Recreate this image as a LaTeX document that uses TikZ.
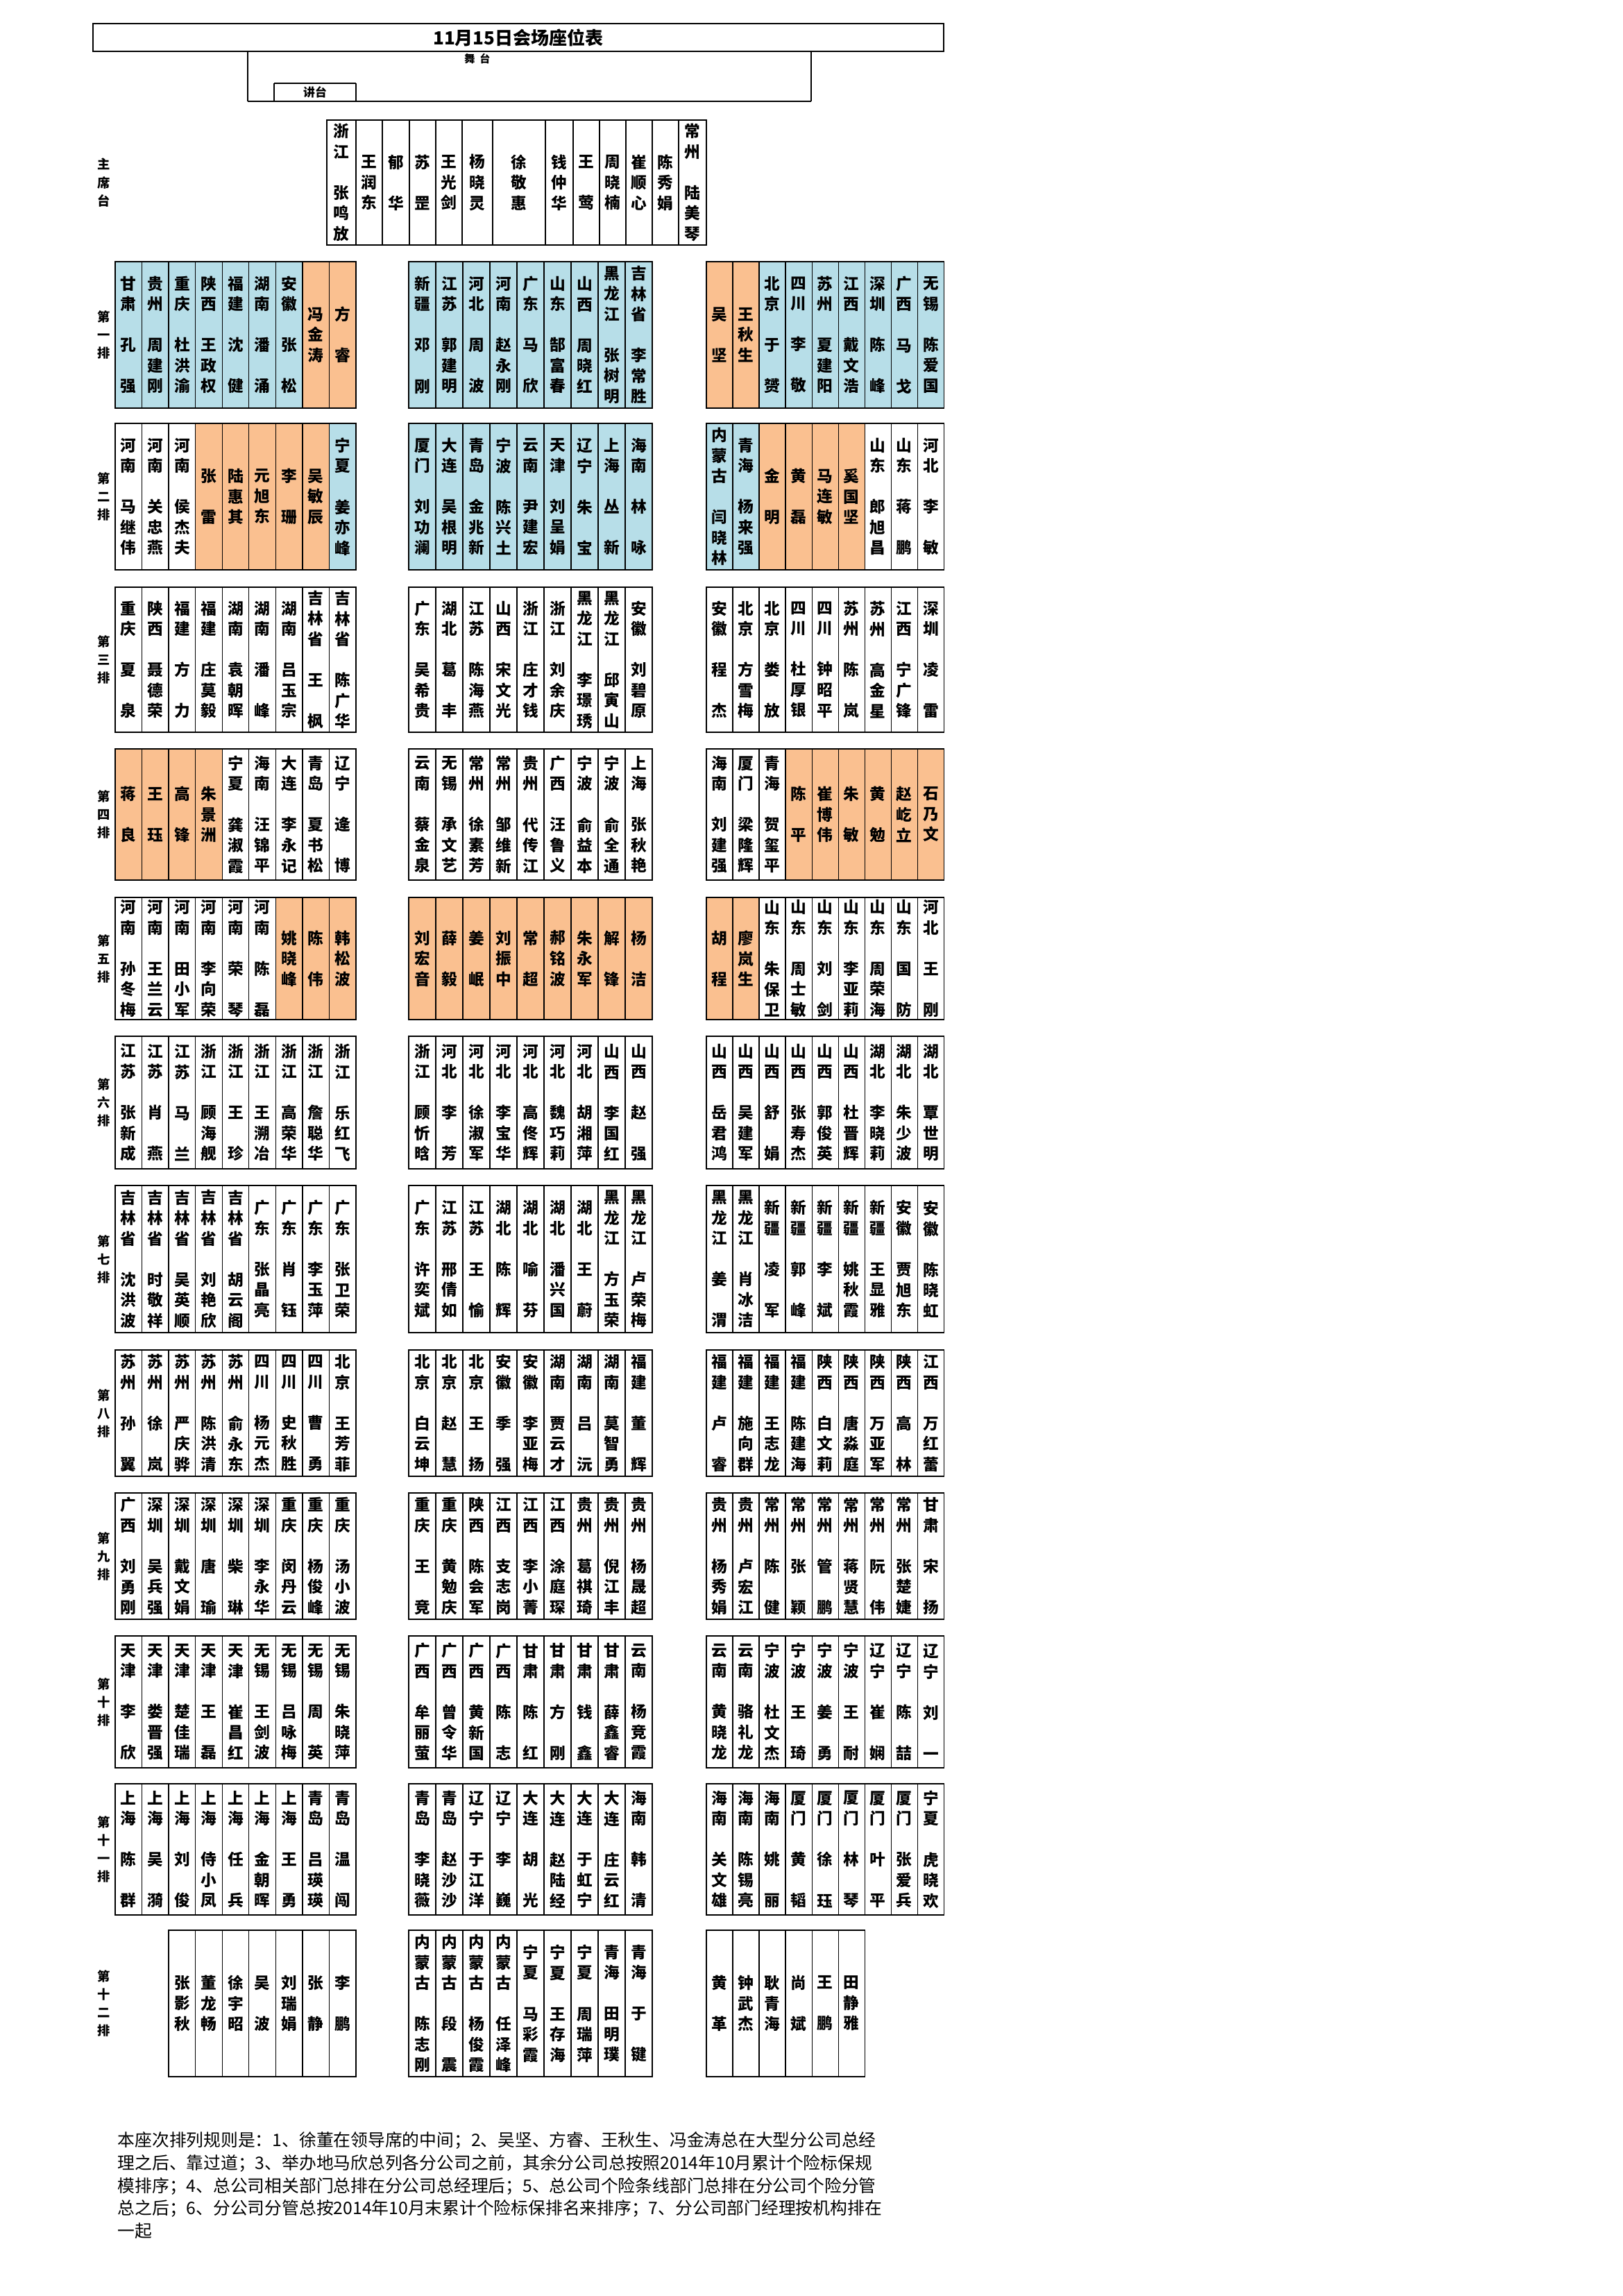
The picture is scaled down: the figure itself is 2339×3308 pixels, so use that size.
\documentclass[tikz,border=0pt]{standalone}
\usepackage{fontspec}
\usepackage{tikz}
\usetikzlibrary{calc}
\usepackage{xcolor}
\newfontfamily\cjk{Noto Sans CJK SC}
\definecolor{seatb}{HTML}{B7DEE8}
\definecolor{seato}{HTML}{FAC090}
\colorlet{seatw}{white}

% one character per line
\newcommand\vstack[1]{\expandafter\vstackA#1\relax}
\def\vstackA#1#2\relax{#1\ifx\relax#2\relax\else\\\vstackA#2\relax\fi}

\tikzset{
  gridline/.style={line width=0.13mm},
  edgeline/.style={line width=0.27mm},
  seat/.style={font=\cjk\bfseries\fontsize{6.45}{8.4}\selectfont, align=center, inner sep=0pt},
  rowlab/.style={font=\cjk\bfseries\fontsize{5.2}{7.4}\selectfont, align=center, inner sep=0pt},
  note/.style={font=\cjk\fontsize{7.05}{9.3}\selectfont, align=left, inner sep=0pt}
}

% #1 name, #2 x left, #3 column width, #4 y top, #5 y bottom, #6 colour/text list
\newcommand\seatblock[6]{%
  \foreach \cc/\tx [count=\i] in {#6} {
    \pgfmathsetmacro\xa{#2+(\i-1)*#3}
    \pgfmathsetmacro\xb{#2+\i*#3}
    \fill[seat\cc] (\xa,#4) rectangle (\xb,#5);
    \draw[gridline] (\xa,#4) rectangle (\xb,#5);
    \draw[edgeline] (\xa,#4) -- (\xb,#4) (\xa,#5) -- (\xb,#5);
    \node[seat] (#1-\i) at ({(\xa+\xb)/2},{(#4+#5)/2}) {\vstack{\tx}};
  }%
}

\begin{document}
\begin{tikzpicture}[x=0.1mm, y=-0.1mm]
\useasboundingbox (0,0) rectangle (2339,3308);

% --- titolo e palco ---
\draw[edgeline] (134,34) rectangle (1360,74);
\node[font=\cjk\bfseries\fontsize{7.4}{9}\selectfont] (title) at (747,54) {11月15日会场座位表};
\draw[gridline] (357,74) -- (357,146) (1169,74) -- (1169,146);
\draw[edgeline] (357,146) -- (1169,146);
\node[font=\cjk\bfseries\fontsize{4.3}{5}\selectfont] (stage) at (688,85) {舞\ \ 台};
\draw[edgeline] (395,120) -- (513,120);
\draw[gridline] (395,120) -- (395,146) (513,120) -- (513,146);
\node[font=\cjk\bfseries\fontsize{4.8}{6}\selectfont] (lectern) at (454,133) {讲台};

% --- 主席台 ---
\node[rowlab] (chairlab) at (150,263) {\vstack{主席台}};
\foreach \xa/\xb/\tx [count=\i] in {471/513/浙江　张鸣放,513/551/王润东,551/590/郁　华,590/628/苏　罡,628/666/王光剑,666/710/杨晓灵,710/786/徐敬惠,786/826/钱仲华,826/864/王　莺,864/902/周晓楠,902/940/崔顺心,940/978/陈秀娟,978/1018/常州　陆美琴}
{
  \draw[gridline] (\xa,173) rectangle (\xb,353);
  \node[seat] (chair-\i) at ({(\xa+\xb)/2},263) {\vstack{\tx}};
}
\draw[edgeline] (471,173) rectangle (1018,353);

% --- etichette delle file ---
\foreach \lab/\ya/\yb [count=\i] in {第一排/377/588,第二排/610/821,第三排/846/1055,第四排/1079/1268,第五排/1293/1469,第六排/1493/1684,第七排/1708/1920,第八排/1945/2127,第九排/2151/2333,第十排/2357/2547,第十一排/2570/2759,第十二排/2781/2992}
  \node[rowlab] (lab-\i) at (150,{(\ya+\yb)/2}) {\vstack{\lab}};

% --- 第一排 ---
\seatblock{r1l}{166}{38.56}{377}{588}{b/甘肃　孔　强,b/贵州　周建刚,b/重庆　杜洪渝,b/陕西　王政权,b/福建　沈　健,b/湖南　潘　涌,b/安徽　张　松,o/冯金涛,o/方　睿}
\seatblock{r1m}{589}{39.0}{377}{588}{b/新疆　邓　刚,b/江苏　郭建明,b/河北　周　波,b/河南　赵永刚,b/广东　马　欣,b/山东　郜富春,b/山西　周晓红,b/黑龙江　张树明,b/吉林省　李常胜}
\seatblock{r1r}{1018}{38.04}{377}{588}{o/吴　坚,o/王秋生,b/北京　于　赟,b/四川　李　敬,b/苏州　夏建阳,b/江西　戴文浩,b/深圳　陈　峰,b/广西　马　戈,b/无锡　陈爱国}

% --- 第二排 ---
\seatblock{r2l}{166}{38.56}{610}{821}{w/河南　马继伟,w/河南　关忠燕,w/河南　侯杰夫,o/张　雷,o/陆惠其,o/元旭东,o/李　珊,o/吴敏辰,b/宁夏　姜亦峰}
\seatblock{r2m}{589}{39.0}{610}{821}{b/厦门　刘功澜,b/大连　吴根明,b/青岛　金兆新,b/宁波　陈兴土,b/云南　尹建宏,b/天津　刘呈娟,b/辽宁　朱　宝,b/上海　丛　新,b/海南　林　咏}
\seatblock{r2r}{1018}{38.04}{610}{821}{b/内蒙古　闫晓林,b/青海　杨来强,o/金　明,o/黄　磊,o/马连敏,o/奚国坚,w/山东　郎旭昌,w/山东　蒋　鹏,w/河北　李　敏}

% --- 第三排 ---
\seatblock{r3l}{166}{38.56}{846}{1055}{w/重庆　夏　泉,w/陕西　聂德荣,w/福建　方　力,w/福建　庄莫毅,w/湖南　袁朝晖,w/湖南　潘　峰,w/湖南　吕玉宗,w/吉林省　王　枫,w/吉林省　陈广华}
\seatblock{r3m}{589}{39.0}{846}{1055}{w/广东　吴希贵,w/湖北　葛　丰,w/江苏　陈海燕,w/山西　宋文光,w/浙江　庄才钱,w/浙江　刘余庆,w/黑龙江　李璟琇,w/黑龙江　邱寅山,w/安徽　刘碧原}
\seatblock{r3r}{1018}{38.04}{846}{1055}{w/安徽　程　杰,w/北京　方雪梅,w/北京　娄　放,w/四川　杜厚银,w/四川　钟昭平,w/苏州　陈　岚,w/苏州　高金星,w/江西　宁广锋,w/深圳　凌　雷}

% --- 第四排 ---
\seatblock{r4l}{166}{38.56}{1079}{1268}{o/蒋　良,o/王　珏,o/高　锋,o/朱景洲,w/宁夏　龚淑霞,w/海南　汪锦平,w/大连　李永记,w/青岛　夏书松,w/辽宁　逄　博}
\seatblock{r4m}{589}{39.0}{1079}{1268}{w/云南　蔡金泉,w/无锡　承文艺,w/常州　徐素芳,w/常州　邹维新,w/贵州　代传江,w/广西　汪鲁义,w/宁波　俞益本,w/宁波　俞全通,w/上海　张秋艳}
\seatblock{r4r}{1018}{38.04}{1079}{1268}{w/海南　刘建强,w/厦门　梁隆辉,w/青海　贺玺平,o/陈　平,o/崔博伟,o/朱　敏,o/黄　勉,o/赵屹立,o/石乃文}

% --- 第五排 ---
\seatblock{r5l}{166}{38.56}{1293}{1469}{w/河南　孙冬梅,w/河南　王兰云,w/河南　田小军,w/河南　李向荣,w/河南　荣　琴,w/河南　陈　磊,o/姚晓峰,o/陈　伟,o/韩松波}
\seatblock{r5m}{589}{39.0}{1293}{1469}{o/刘宏音,o/薛　毅,o/姜　岷,o/刘振中,o/常　超,o/郝铭波,o/朱永军,o/解　锋,o/杨　洁}
\seatblock{r5r}{1018}{38.04}{1293}{1469}{o/胡　程,o/廖岚生,w/山东　朱保卫,w/山东　周士敏,w/山东　刘　剑,w/山东　李亚莉,w/山东　周荣海,w/山东　国　防,w/河北　王　刚}

% --- 第六排 ---
\seatblock{r6l}{166}{38.56}{1493}{1684}{w/江苏　张新成,w/江苏　肖　燕,w/江苏　马　兰,w/浙江　顾海舰,w/浙江　王　珍,w/浙江　王溯冶,w/浙江　高荣华,w/浙江　詹聪华,w/浙江　乐红飞}
\seatblock{r6m}{589}{39.0}{1493}{1684}{w/浙江　顾忻晗,w/河北　李　芳,w/河北　徐淑军,w/河北　李宝华,w/河北　高佟辉,w/河北　魏巧莉,w/河北　胡湘萍,w/山西　李国红,w/山西　赵　强}
\seatblock{r6r}{1018}{38.04}{1493}{1684}{w/山西　岳君鸿,w/山西　吴建军,w/山西　舒　娟,w/山西　张寿杰,w/山西　郭俊英,w/山西　杜晋辉,w/湖北　李晓莉,w/湖北　朱少波,w/湖北　覃世明}

% --- 第七排 ---
\seatblock{r7l}{166}{38.56}{1708}{1920}{w/吉林省　沈洪波,w/吉林省　时敬祥,w/吉林省　吴英顺,w/吉林省　刘艳欣,w/吉林省　胡云阁,w/广东　张晶亮,w/广东　肖　钰,w/广东　李玉萍,w/广东　张卫荣}
\seatblock{r7m}{589}{39.0}{1708}{1920}{w/广东　许奕斌,w/江苏　邢倩如,w/江苏　王　愉,w/湖北　陈　辉,w/湖北　喻　芬,w/湖北　潘兴国,w/湖北　王　蔚,w/黑龙江　方玉荣,w/黑龙江　卢荣梅}
\seatblock{r7r}{1018}{38.04}{1708}{1920}{w/黑龙江　姜　渭,w/黑龙江　肖冰洁,w/新疆　凌　军,w/新疆　郭　峰,w/新疆　李　斌,w/新疆　姚秋霞,w/新疆　王显雅,w/安徽　贾旭东,w/安徽　陈晓虹}

% --- 第八排 ---
\seatblock{r8l}{166}{38.56}{1945}{2127}{w/苏州　孙　翼,w/苏州　徐　岚,w/苏州　严庆骅,w/苏州　陈洪清,w/苏州　俞永东,w/四川　杨元杰,w/四川　史秋胜,w/四川　曹　勇,w/北京　王芳菲}
\seatblock{r8m}{589}{39.0}{1945}{2127}{w/北京　白云坤,w/北京　赵　慧,w/北京　王　扬,w/安徽　季　强,w/安徽　李亚梅,w/湖南　贾云才,w/湖南　吕　沅,w/湖南　莫智勇,w/福建　董　辉}
\seatblock{r8r}{1018}{38.04}{1945}{2127}{w/福建　卢　睿,w/福建　施向群,w/福建　王志龙,w/福建　陈建海,w/陕西　白文莉,w/陕西　唐淼庭,w/陕西　万亚军,w/陕西　高　林,w/江西　万红蕾}

% --- 第九排 ---
\seatblock{r9l}{166}{38.56}{2151}{2333}{w/广西　刘勇刚,w/深圳　吴兵强,w/深圳　戴文娟,w/深圳　唐　瑜,w/深圳　柴　琳,w/深圳　李永华,w/重庆　闵丹云,w/重庆　杨俊峰,w/重庆　汤小波}
\seatblock{r9m}{589}{39.0}{2151}{2333}{w/重庆　王　竞,w/重庆　黄勉庆,w/陕西　陈会军,w/江西　支志岗,w/江西　李小菁,w/江西　涂庭琛,w/贵州　葛祺琦,w/贵州　倪江丰,w/贵州　杨晟超}
\seatblock{r9r}{1018}{38.04}{2151}{2333}{w/贵州　杨秀娟,w/贵州　卢宏江,w/常州　陈　健,w/常州　张　颖,w/常州　管　鹏,w/常州　蒋贤慧,w/常州　阮　伟,w/常州　张楚婕,w/甘肃　宋　扬}

% --- 第十排 ---
\seatblock{r10l}{166}{38.56}{2357}{2547}{w/天津　李　欣,w/天津　娄晋强,w/天津　楚佳瑞,w/天津　王　磊,w/天津　崔昌红,w/无锡　王剑波,w/无锡　吕咏梅,w/无锡　周　英,w/无锡　朱晓萍}
\seatblock{r10m}{589}{39.0}{2357}{2547}{w/广西　牟丽萤,w/广西　曾令华,w/广西　黄新国,w/广西　陈　志,w/甘肃　陈　红,w/甘肃　方　刚,w/甘肃　钱　鑫,w/甘肃　薛鑫睿,w/云南　杨竞霞}
\seatblock{r10r}{1018}{38.04}{2357}{2547}{w/云南　黄晓龙,w/云南　骆礼龙,w/宁波　杜文杰,w/宁波　王　琦,w/宁波　姜　勇,w/宁波　王　耐,w/辽宁　崔　娴,w/辽宁　陈　喆,w/辽宁　刘　一}

% --- 第十一排 ---
\seatblock{r11l}{166}{38.56}{2570}{2759}{w/上海　陈　群,w/上海　吴　漪,w/上海　刘　俊,w/上海　侍小凤,w/上海　任　兵,w/上海　金朝晖,w/上海　王　勇,w/青岛　吕瑛瑛,w/青岛　温　闯}
\seatblock{r11m}{589}{39.0}{2570}{2759}{w/青岛　李晓薇,w/青岛　赵沙沙,w/辽宁　于江洋,w/辽宁　李　巍,w/大连　胡　光,w/大连　赵陆经,w/大连　于虹宁,w/大连　庄云红,w/海南　韩　清}
\seatblock{r11r}{1018}{38.04}{2570}{2759}{w/海南　关文雄,w/海南　陈锡亮,w/海南　姚　丽,w/厦门　黄　韬,w/厦门　徐　珏,w/厦门　林　琴,w/厦门　叶　平,w/厦门　张爱兵,w/宁夏　虎晓欢}

% --- 第十二排 ---
\seatblock{r12l}{243.1}{38.56}{2781}{2992}{w/张影秋,w/董龙畅,w/徐宇昭,w/吴　波,w/刘瑞娟,w/张　静,w/李　鹏}
\seatblock{r12m}{589}{39.0}{2781}{2992}{w/内蒙古　陈志刚,w/内蒙古　段　震,w/内蒙古　杨俊霞,w/内蒙古　任泽峰,w/宁夏　马彩霞,w/宁夏　王存海,w/宁夏　周瑞萍,w/青海　田明璞,w/青海　于　键}
\seatblock{r12r}{1018}{38.04}{2781}{2992}{w/黄　革,w/钟武杰,w/耿青海,w/尚　斌,w/王　鹏,w/田静雅}

% --- regole ---
\node[note, anchor=north west] (rules) at (169,3071) {本座次排列规则是：1、徐董在领导席的中间；2、吴坚、方睿、王秋生、冯金涛总在大型分公司总经\\理之后、靠过道；3、举办地马欣总列各分公司之前，其余分公司总按照2014年10月累计个险标保规\\模排序；4、总公司相关部门总排在分公司总经理后；5、总公司个险条线部门总排在分公司个险分管\\总之后；6、分公司分管总按2014年10月末累计个险标保排名来排序；7、分公司部门经理按机构排在\\一起};
\end{tikzpicture}
\end{document}
